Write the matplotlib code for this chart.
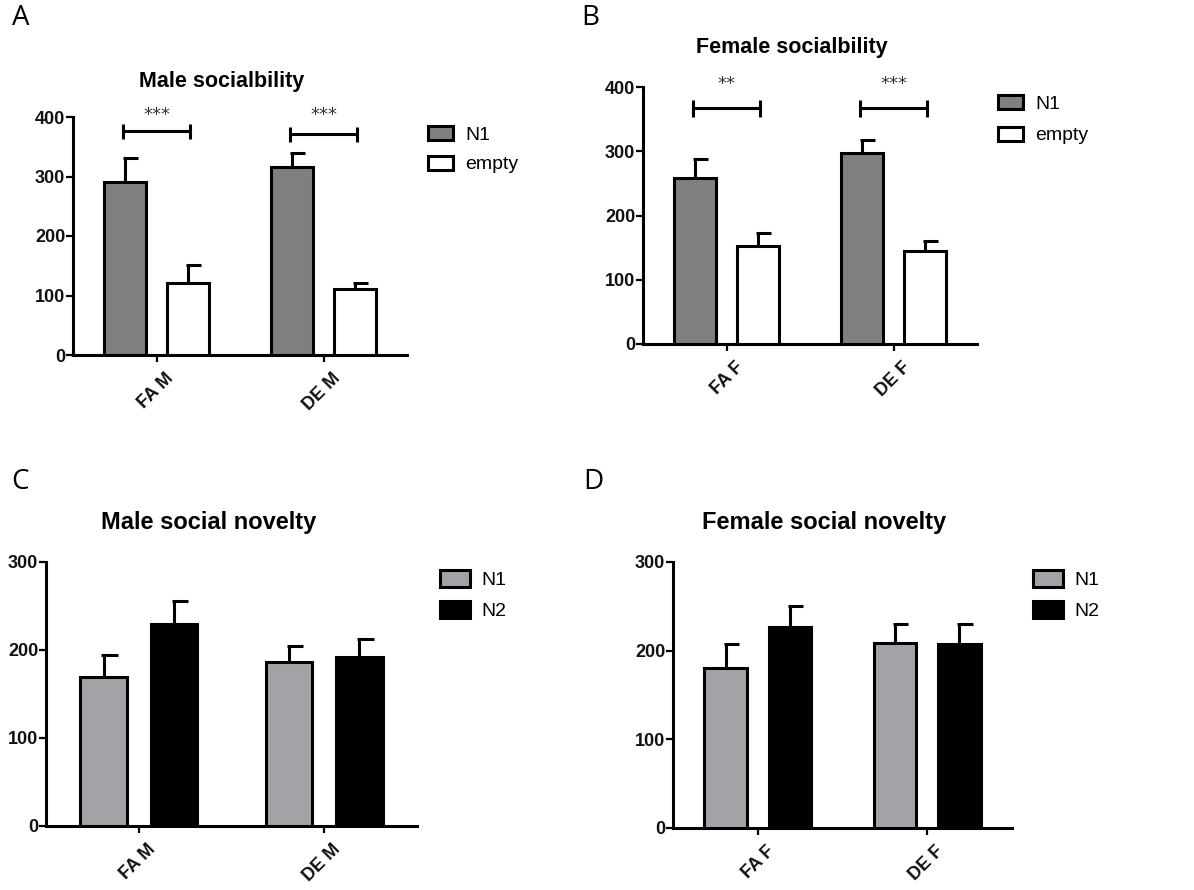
import matplotlib
matplotlib.use("Agg")
import matplotlib.pyplot as plt
import numpy as np
from matplotlib.patches import Patch
from matplotlib.transforms import ScaledTranslation

# ---------------- data ----------------
groups_A = ["FA M", "DE M"]
A_n1 = [291, 316]
A_n1_err = [40, 23]
A_empty = [121, 111]
A_empty_err = [30, 10]
A_sig = ["***", "***"]
A_sig_y = [376, 371]

groups_B = ["FA F", "DE F"]
B_n1 = [258, 297]
B_n1_err = [30, 20]
B_empty = [152, 145]
B_empty_err = [21, 15]
B_sig = ["**", "***"]
B_sig_y = [367, 367]

groups_C = ["FA M", "DE M"]
C_n1 = [169, 186]
C_n1_err = [25, 19]
C_n2 = [230, 192]
C_n2_err = [26, 20]

groups_D = ["FA F", "DE F"]
D_n1 = [180, 209]
D_n1_err = [27, 21]
D_n2 = [227, 208]
D_n2_err = [23, 22]

W, H = 1194, 890
fig = plt.figure(figsize=(W / 100, H / 100), dpi=100)
FONT = "Liberation Sans"
LW = 2.2


def px_axes(x0, y0, x1, y1):
    return fig.add_axes([x0 / W, 1 - y1 / H, (x1 - x0) / W, (y1 - y0) / H])


def draw_panel(ax, groups, s1, e1, s2, e2, c1, c2, labels, ymax, yticks):
    x = np.arange(len(groups))
    off, bw = 0.19, 0.25
    for xs, vals, errs, col in [(x - off, s1, e1, c1), (x + off, s2, e2, c2)]:
        ax.bar(xs, vals, width=bw, color=col, edgecolor="black", linewidth=LW, zorder=3)
        for xi, v, e in zip(xs, vals, errs):
            ax.plot([xi, xi], [v, v + e], color="black", lw=LW, zorder=2,
                    solid_capstyle="butt")
            ax.plot([xi - 0.012, xi + 0.078], [v + e, v + e], color="black", lw=LW,
                    zorder=2, solid_capstyle="butt")
    ax.set_xlim(-0.5, 1.5)
    ax.set_ylim(0, ymax)
    ax.set_yticks(yticks)
    ax.set_xticks(x)
    ax.set_xticklabels(groups, rotation=45, ha="right", va="center",
                       rotation_mode="anchor")
    for sp in ["top", "right"]:
        ax.spines[sp].set_visible(False)
    for sp in ["left", "bottom"]:
        ax.spines[sp].set_linewidth(LW)
    ax.tick_params(axis="both", width=1.6, length=5, color="black")
    ax.tick_params(axis="y", pad=0.5)
    ax.tick_params(axis="x", pad=10)
    for lab in ax.get_yticklabels() + ax.get_xticklabels():
        lab.set_fontfamily(FONT)
        lab.set_fontweight("bold")
        lab.set_fontsize(13)
        lab.set_color("#111111")
    for lab in ax.get_xticklabels():
        lab.set_transform(lab.get_transform() + ScaledTranslation(0.14, 0, fig.dpi_scale_trans))
    handles = [Patch(facecolor=c1, edgecolor="black", linewidth=LW, label=labels[0]),
               Patch(facecolor=c2, edgecolor="black", linewidth=LW, label=labels[1])]
    return handles


def add_legend(ax, handles, xpx, ypx, hl, hh, ls):
    leg = ax.legend(handles=handles, loc="upper left",
                    bbox_to_anchor=(xpx / W, 1 - ypx / H), bbox_transform=fig.transFigure,
                    frameon=False, prop={"family": FONT, "size": 14},
                    handlelength=hl, handleheight=hh, handletextpad=0.6,
                    labelspacing=ls, borderaxespad=0, borderpad=0)
    return leg


def add_sig(ax, sig, sig_y, star_y):
    for i, (s, yb) in enumerate(zip(sig, sig_y)):
        x1, x2 = i - 0.2, i + 0.2
        ax.plot([x1, x2], [yb, yb], color="black", lw=LW, clip_on=False,
                solid_capstyle="butt")
        for xe in (x1, x2):
            ax.plot([xe, xe], [yb - 13, yb + 13], color="black", lw=LW, clip_on=False,
                    solid_capstyle="butt")
        ax.text(i, star_y, s, ha="center", va="center", fontsize=13,
                family="DejaVu Sans", color="#333333", clip_on=False)


# Panel A
axA = px_axes(73, 117, 407, 355)
h = draw_panel(axA, groups_A, A_n1, A_n1_err, A_empty, A_empty_err,
               "#808080", "white", ["N1", "empty"], 400, [0, 100, 200, 300, 400])
add_sig(axA, A_sig, A_sig_y, 404)
add_legend(axA, h, 428, 126, 1.3, 0.75, 0.6)
fig.text(222 / W, 1 - 82 / H, "Male socialbility", ha="center", va="center",
         family=FONT, fontweight="bold", fontsize=15.5)

# Panel B
axB = px_axes(643, 87, 977, 344)
h = draw_panel(axB, groups_B, B_n1, B_n1_err, B_empty, B_empty_err,
               "#808080", "white", ["N1", "empty"], 400, [0, 100, 200, 300, 400])
add_sig(axB, B_sig, B_sig_y, 404)
add_legend(axB, h, 998, 95, 1.3, 0.75, 0.7)
fig.text(792 / W, 1 - 47 / H, "Female socialbility", ha="center", va="center",
         family=FONT, fontweight="bold", fontsize=15.5)

# Panel C
axC = px_axes(46, 562, 417, 826)
h = draw_panel(axC, groups_C, C_n1, C_n1_err, C_n2, C_n2_err,
               "#a3a3a7", "black", ["N1", "N2"], 300, [0, 100, 200, 300])
add_legend(axC, h, 440, 570, 1.55, 0.95, 0.6)
fig.text(209 / W, 1 - 523 / H, "Male social novelty", ha="center", va="center",
         family=FONT, fontweight="bold", fontsize=17)

# Panel D
axD = px_axes(673, 562, 1012, 828)
h = draw_panel(axD, groups_D, D_n1, D_n1_err, D_n2, D_n2_err,
               "#a3a3a7", "black", ["N1", "N2"], 300, [0, 100, 200, 300])
add_legend(axD, h, 1033, 570, 1.55, 0.95, 0.6)
fig.text(824 / W, 1 - 523 / H, "Female social novelty", ha="center", va="center",
         family=FONT, fontweight="bold", fontsize=17)

# panel letters
for lab, xp, yp in [("A", 21, 18), ("B", 590, 18), ("C", 20, 482), ("D", 593, 482)]:
    fig.text(xp / W, 1 - yp / H, lab, ha="center", va="center",
             family="Open Sans", fontsize=20)

fig.savefig("out.png", dpi=100)
